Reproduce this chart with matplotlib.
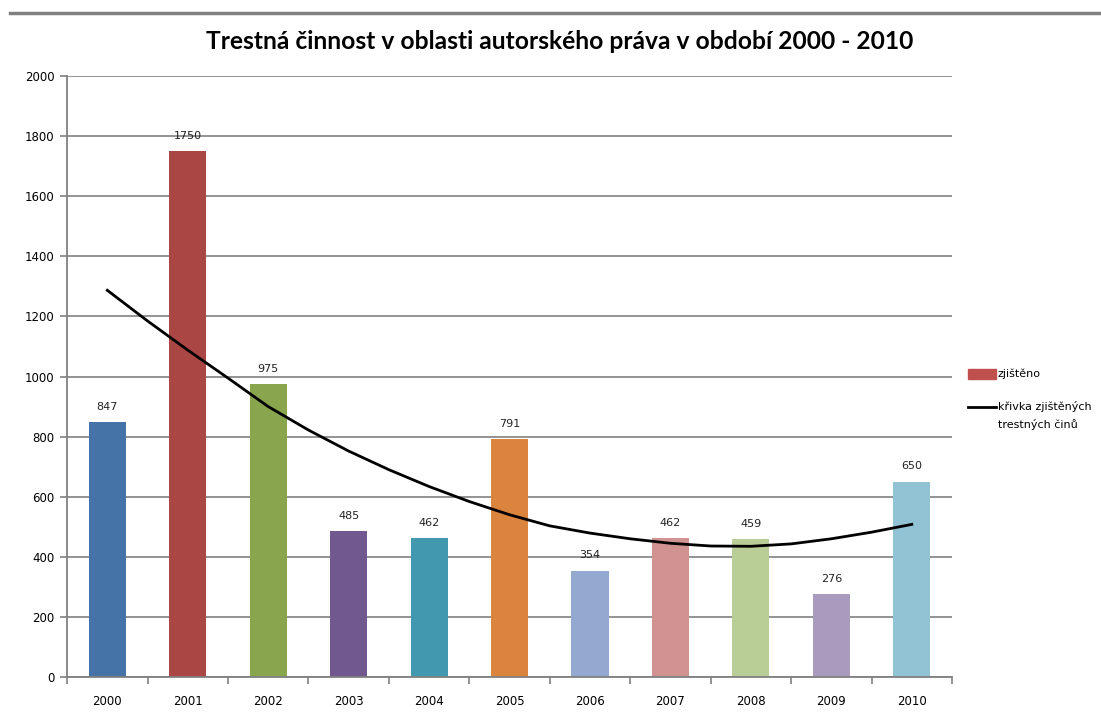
import matplotlib.pyplot as plt
import numpy as np
from matplotlib.lines import Line2D
from matplotlib.patches import Rectangle

# Data
roky = ["2000", "2001", "2002", "2003", "2004", "2005", "2006", "2007", "2008", "2009", "2010"]
zjisteno = [847, 1750, 975, 485, 462, 791, 354, 462, 459, 276, 650]

# trend curve at every half year (category positions)
krivka_x = [0, 0.5, 1, 1.5, 2, 2.5, 3, 3.5, 4, 4.5, 5,
            5.5, 6, 6.5, 7, 7.5, 8, 8.5, 9, 9.5, 10]
krivka_y = [1287, 1185, 1088, 995, 900, 822, 752, 690, 634, 584, 540,
            503, 479, 460, 445, 436, 435, 443, 460, 482, 508]

barvy = ["#4572A7", "#AA4643", "#89A54E", "#71588F", "#4198AF", "#DB843D",
         "#93A9CF", "#D19392", "#B9CD96", "#A99BBD", "#92C3D5"]

W, H = 1101, 720
fig = plt.figure(figsize=(W / 100, H / 100), dpi=100)
ax = fig.add_axes([0.0609, 0.0597, 0.8038, 0.8347])

x = np.arange(len(roky))
ax.bar(x, zjisteno, width=0.46, color=barvy, zorder=2)
ax.plot(krivka_x, krivka_y, color="black", lw=2, zorder=3)

# popisky hodnot nad sloupci
for xi, v in zip(x, zjisteno):
    ax.text(xi, v + 35, str(v), ha="center", va="bottom", fontsize=8, color="#222222")

ax.set_xlim(-0.5, len(roky) - 0.5)
ax.set_ylim(0, 2000)
ax.set_yticks(range(0, 2001, 200))
ax.yaxis.grid(True, color="#8a8a8a", lw=1.3, zorder=0)
ax.set_axisbelow(True)

ax.set_xticks(x)
ax.set_xticklabels(roky)
ax.set_xticks(np.arange(-0.5, len(roky)), minor=True)
ax.tick_params(axis="x", which="major", length=0, pad=13, labelsize=8.5)
ax.tick_params(axis="x", which="minor", length=5, color="#808080", width=1.2)
ax.tick_params(axis="y", length=5, color="#808080", width=1.2, labelsize=8.5, pad=4)

for s in ["top", "right"]:
    ax.spines[s].set_visible(False)
for s in ["left", "bottom"]:
    ax.spines[s].set_color("#808080")
    ax.spines[s].set_linewidth(1.3)

fig.text(0.5086, 0.942, "Trestná činnost v oblasti autorského práva v období 2000 - 2010",
         ha="center", va="center", fontsize=17.7, fontweight="bold", family="Lato")

# horni linka
fig.add_artist(Line2D([0.009, 1.0], [0.982, 0.982], color="#808080", lw=2.5))

# legenda (rucne)
fig.add_artist(Rectangle((968 / W, 1 - 379 / H), 28 / W, 10 / H, color="#C0504D"))
fig.text(998 / W, 1 - 374 / H, "zjištěno", fontsize=8, va="center", ha="left")
fig.add_artist(Line2D([968 / W, 996 / W], [1 - 407 / H, 1 - 407 / H], color="black", lw=2))
fig.text(998 / W, 1 - 407 / H, "křivka zjištěných", fontsize=8, va="center", ha="left")
fig.text(998 / W, 1 - 424 / H, "trestných činů", fontsize=8, va="center", ha="left")

plt.savefig("out.png", dpi=100)
